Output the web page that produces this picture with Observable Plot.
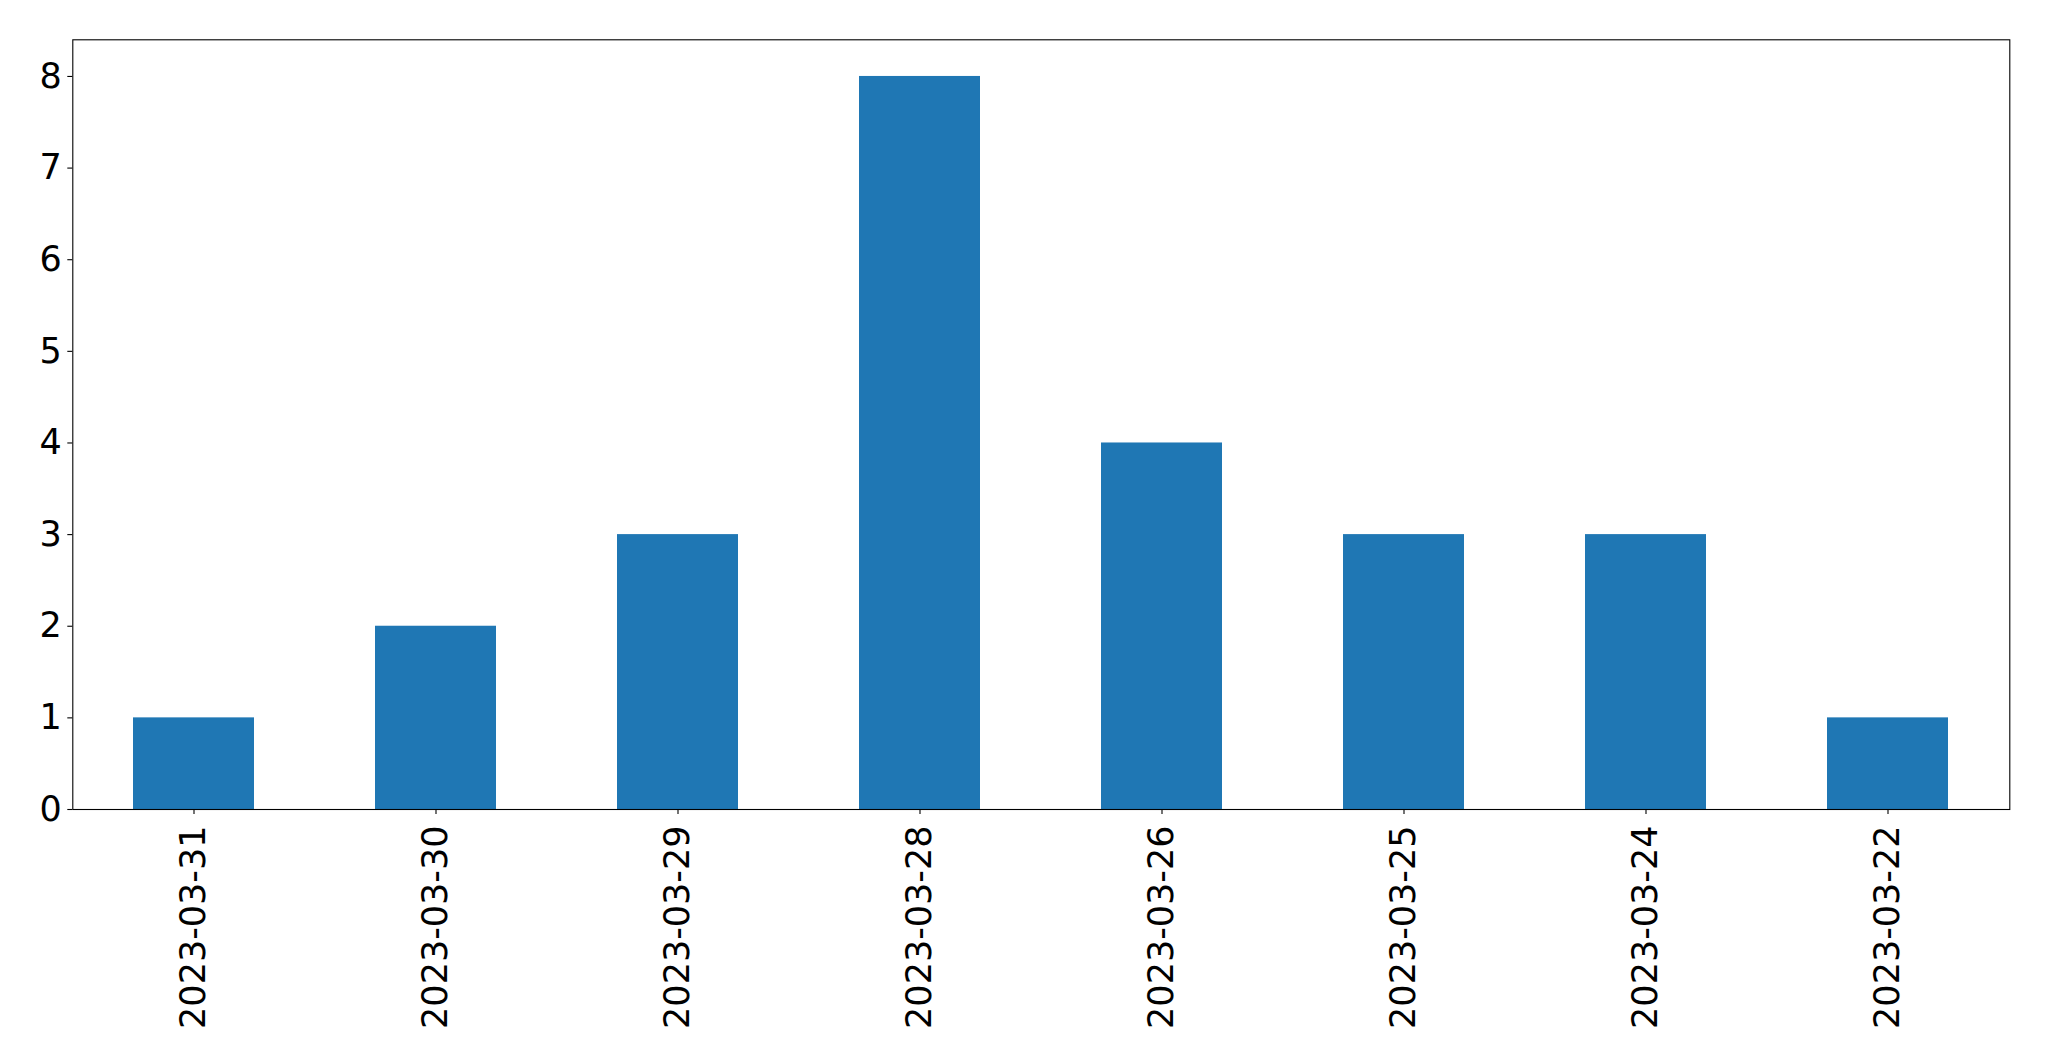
<!DOCTYPE html>
<html>
<head>
<meta charset="utf-8">
<script src="https://cdn.jsdelivr.net/npm/d3@7"></script>
<script src="https://cdn.jsdelivr.net/npm/@observablehq/plot@0.6"></script>
<style>
  html, body { margin: 0; padding: 0; background: #fff; }
  svg { display: block; }
</style>
</head>
<body>
<div id="chart"></div>
<script>
const dates = ["2023-03-31", "2023-03-30", "2023-03-29", "2023-03-28", "2023-03-26", "2023-03-25", "2023-03-24", "2023-03-22"];
const counts = [1, 2, 3, 8, 4, 3, 3, 1];
const yTicks = [0, 1, 2, 3, 4, 5, 6, 7, 8];

const data = dates.map((d, i) => ({date: d, count: counts[i]}));

const chart = Plot.plot({
  width: 2049,
  height: 1061,
  marginLeft: 72.3,
  marginRight: 39.7,
  marginTop: 39.3,
  marginBottom: 252,
  style: {fontFamily: "'DejaVu Sans', sans-serif", fontSize: "35px", background: "#fff", color: "#000"},
  x: {domain: dates, paddingInner: 0.5, paddingOuter: 0.25, align: 0.5},
  y: {domain: [0, 8.4]},
  marks: [
    Plot.barY(data, {x: "date", y: "count", fill: "#1f77b4"}),
    Plot.axisY({ticks: yTicks, tickSize: 5, tickPadding: 6, fontSize: 35, label: null, stroke: "#000", strokeWidth: 1.1}),
    Plot.axisX({tickSize: 5, tickPadding: 11, tickRotate: -90, fontSize: 35, label: null, stroke: "#000", strokeWidth: 1.1}),
    Plot.frame({stroke: "#000", strokeWidth: 1.1})
  ]
});
document.getElementById("chart").appendChild(chart);
</script>
</body>
</html>
